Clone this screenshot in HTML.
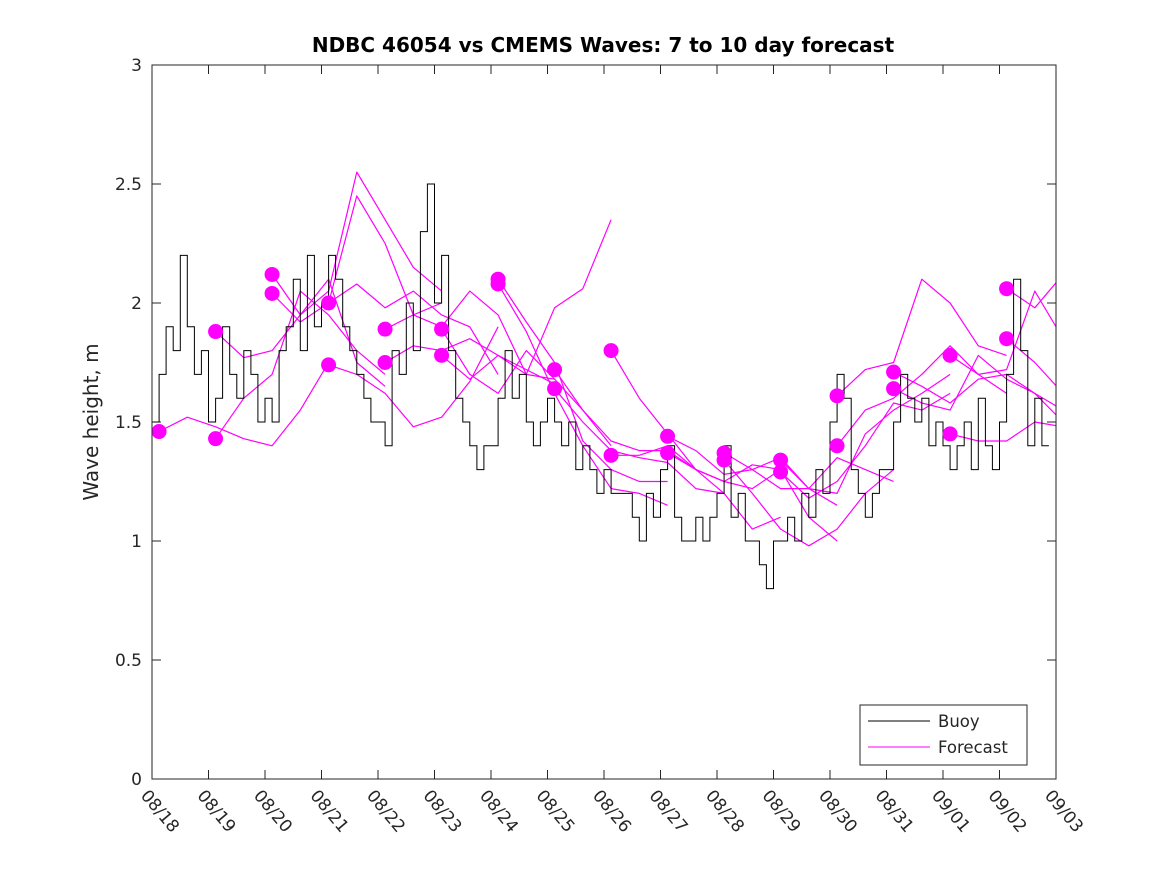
<!DOCTYPE html>
<html><head><meta charset="utf-8"><style>
body{margin:0;background:#fff;}
svg text{font-family:"DejaVu Sans","Liberation Sans",sans-serif;fill:#262626;}
</style></head><body>
<svg id="chart" width="1167" height="875" viewBox="0 0 1167 875">
<defs><clipPath id="clip"><rect x="152" y="65" width="904" height="714"/></clipPath></defs>
<rect x="0" y="0" width="1167" height="875" fill="#fff"/>
<text x="603" y="52" text-anchor="middle" font-size="20" font-weight="bold" style="fill:#000">NDBC 46054 vs CMEMS Waves: 7 to 10 day forecast</text>
<text transform="translate(98,422) rotate(-90)" text-anchor="middle" font-size="20">Wave height, m</text>
<g id="grid"></g>
<g id="series" clip-path="url(#clip)"></g>
<rect x="152" y="65" width="904" height="714" fill="none" stroke="#262626" stroke-width="1"/>
<g>
<rect x="860" y="705" width="167" height="60" fill="#fff" stroke="#262626"/>
<line x1="868" y1="721" x2="930" y2="721" stroke="#000"/>
<text x="938" y="727" font-size="16.5">Buoy</text>
<line x1="868" y1="747" x2="930" y2="747" stroke="#f0f"/>
<text x="938" y="753" font-size="16.5">Forecast</text>
</g>
</svg>
<script>
const xTickLabels=["08/18","08/19","08/20","08/21","08/22","08/23","08/24","08/25","08/26","08/27","08/28","08/29","08/30","08/31","09/01","09/02","09/03"];
const yTicks=[0,0.5,1,1.5,2,2.5,3];
const yTickLabels=["0","0.5","1","1.5","2","2.5","3"];
const buoyStepDays=0.125;
const buoyValues=[
1.5,1.7,1.9,1.8,2.2,1.9,1.7,1.8,
1.5,1.6,1.9,1.7,1.6,1.8,1.7,1.5,
1.6,1.5,1.8,1.9,2.1,1.8,2.2,1.9,
2.0,2.2,2.1,1.9,1.8,1.7,1.6,1.5,
1.5,1.4,1.8,1.7,2.0,1.8,2.3,2.5,
2.0,2.2,1.8,1.6,1.5,1.4,1.3,1.4,
1.4,1.6,1.8,1.6,1.7,1.5,1.4,1.5,
1.6,1.5,1.4,1.5,1.3,1.4,1.3,1.2,
1.3,1.2,1.2,1.2,1.1,1.0,1.2,1.1,
1.3,1.4,1.1,1.0,1.0,1.1,1.0,1.1,
1.2,1.4,1.1,1.2,1.0,1.0,0.9,0.8,
1.0,1.0,1.1,1.0,1.2,1.1,1.3,1.2,
1.5,1.7,1.6,1.3,1.2,1.1,1.2,1.3,
1.3,1.5,1.7,1.6,1.5,1.6,1.4,1.5,
1.4,1.3,1.4,1.5,1.3,1.6,1.4,1.3,
1.5,1.7,2.1,1.8,1.4,1.6,1.4];
const forecastStartDays=[0.125,1.125,1.125,2.125,2.125,3.125,3.125,4.125,4.125,5.125,5.125,6.125,6.125,7.125,7.125,8.125,8.125,9.125,9.125,10.125,10.125,11.125,11.125,12.125,12.125,13.125,13.125,14.125,14.125,15.125,15.125];
const forecastValues=[
[1.46,1.52,1.48,1.43,1.40,1.55,1.75],
[1.88,1.77,1.80,1.95,2.10,1.75,1.65],
[1.43,1.60,1.70,2.05,1.95,1.80,1.70],
[2.12,1.95,2.05,2.55,2.35,2.15,2.05],
[2.04,1.92,2.00,2.45,2.25,1.95,2.00],
[2.00,2.08,1.98,2.05,1.95,1.90,1.70],
[1.74,1.70,1.62,1.48,1.52,1.67,1.90],
[1.89,1.95,1.90,2.05,1.95,1.70,1.68],
[1.75,1.82,1.80,1.85,1.78,1.72,1.66],
[1.89,1.70,1.62,1.80,1.68,1.55,1.40],
[1.78,1.68,1.78,1.70,1.98,2.06,2.35],
[2.10,1.92,1.75,1.42,1.30,1.25,1.25],
[2.08,1.88,1.62,1.40,1.22,1.20,1.15],
[1.72,1.55,1.42,1.38,1.38,1.30,1.25],
[1.64,1.50,1.38,1.35,1.33,1.22,1.20],
[1.80,1.60,1.45,1.30,1.20,1.05,1.10],
[1.36,1.36,1.40,1.30,1.25,1.22,1.30],
[1.44,1.38,1.28,1.30,1.35,1.22,1.15],
[1.37,1.30,1.25,1.32,1.30,1.10,1.00],
[1.37,1.30,1.22,1.22,1.35,1.30,1.25],
[1.34,1.20,1.05,0.98,1.05,1.20,1.30],
[1.34,1.22,1.20,1.45,1.55,1.62,1.70],
[1.29,1.18,1.25,1.40,1.58,1.55,1.62],
[1.61,1.72,1.75,2.10,2.00,1.82,1.78],
[1.40,1.55,1.60,1.70,1.82,1.70,1.62],
[1.71,1.65,1.58,1.68,1.70,1.62,1.55],
[1.64,1.58,1.55,1.78,1.68,1.62,1.50],
[1.78,1.70,1.72,2.05,1.85,1.70,1.70],
[1.45,1.42,1.42,1.50,1.48,1.50,1.50],
[2.06,1.98,2.12],
[1.85,1.75,1.62]];
const forecastStepDays=0.5;

const NS="http://www.w3.org/2000/svg";
const X0=152,X1=1056,Y0=779,Y1=65,DAYS=16,YMAX=3;
function xs(d){return X0+(X1-X0)*d/DAYS;}
function ys(v){return Y0-(Y0-Y1)*v/YMAX;}
function mk(tag,attrs,parent){const e=document.createElementNS(NS,tag);for(const k in attrs)e.setAttribute(k,attrs[k]);parent.appendChild(e);return e;}
const grid=document.getElementById('grid');
const series=document.getElementById('series');
yTicks.forEach((v,i)=>{
  const y=ys(v);
  const t1=mk('line',{x1:X0,y1:y,x2:X0+9,y2:y,stroke:'#262626'},grid);
  
  
  const t2=mk('line',{x1:X1-9,y1:y,x2:X1,y2:y,stroke:'#262626'},grid);
  
  
  const tx=mk('text',{x:X0-10,y:y+6,'text-anchor':'end','font-size':'17'},grid);
  tx.textContent=yTickLabels[i];
  
  
});
xTickLabels.forEach((lab,i)=>{
  const x=xs(i);
  const t1=mk('line',{x1:x,y1:Y0,x2:x,y2:Y0-9,stroke:'#262626'},grid);
  
  
  const t2=mk('line',{x1:x,y1:Y1,x2:x,y2:Y1+9,stroke:'#262626'},grid);
  
  
  const tx=mk('text',{transform:`translate(${x-12},${Y0+17}) rotate(50)`,'font-size':'17'},grid);
  tx.textContent=lab;
  
  
});
forecastValues.forEach((vals,i)=>{
  const s=forecastStartDays[i];
  const pts=vals.map((v,j)=>xs(s+j*forecastStepDays).toFixed(1)+','+ys(v).toFixed(1)).join(' ');
  const pl=mk('polyline',{points:pts,fill:'none',stroke:'#f0f','stroke-width':'1.2','stroke-linejoin':'round'},series);
  
  
});
let bp=[];
buoyValues.forEach((v,i)=>{
  const xa=xs(i*buoyStepDays),xb=xs((i+1)*buoyStepDays),y=ys(v);
  bp.push(xa.toFixed(1)+','+y.toFixed(1));bp.push(xb.toFixed(1)+','+y.toFixed(1));
});
const bl=mk('polyline',{points:bp.join(' '),fill:'none',stroke:'#000','stroke-width':'1'},series);


forecastValues.forEach((vals,i)=>{
  const c=mk('circle',{cx:xs(forecastStartDays[i]),cy:ys(vals[0]),r:7.5,fill:'#f0f'},series);
  
  
});
</script>
</body></html>
